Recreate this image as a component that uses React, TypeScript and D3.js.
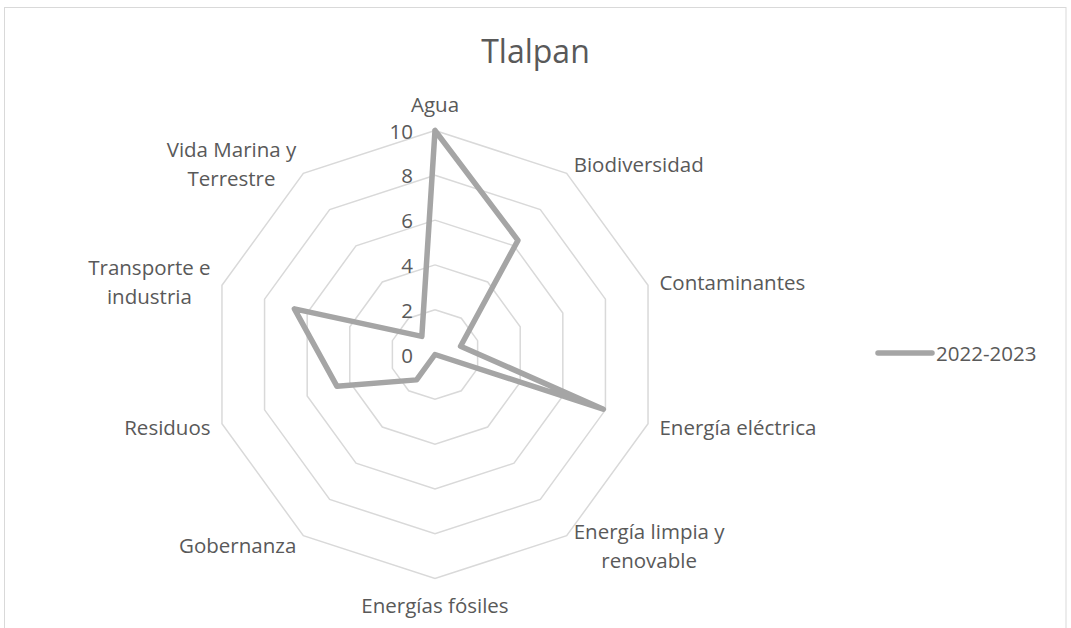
import React from "react";
import * as d3 from "d3";

const title = "Tlalpan";
const categories = [
  "Agua",
  "Biodiversidad",
  "Contaminantes",
  "Energía eléctrica",
  "Energía limpia y renovable",
  "Energías fósiles",
  "Gobernanza",
  "Residuos",
  "Transporte e industria",
  "Vida Marina y Terrestre",
];
const categoryLines = [
  ["Agua"],
  ["Biodiversidad"],
  ["Contaminantes"],
  ["Energía eléctrica"],
  ["Energía limpia y", "renovable"],
  ["Energías fósiles"],
  ["Gobernanza"],
  ["Residuos"],
  ["Transporte e", "industria"],
  ["Vida Marina y", "Terrestre"],
];
const seriesName = "2022-2023";
const values = [10, 6.3, 1.2, 7.9, 0, 0, 1.4, 4.6, 6.6, 1.0];
const ticks = [0, 2, 4, 6, 8, 10];

const W = 1071;
const H = 628;
const FONT = "'Open Sans', 'Noto Sans', sans-serif";
const TEXT = "#595959";
const GRID = "#D9D9D9";
const SERIES = "#A5A5A5";

let ctx: CanvasRenderingContext2D | null = null;
function measure(s: string, size: number) {
  if (!ctx) ctx = document.createElement("canvas").getContext("2d");
  if (!ctx) return s.length * size * 0.5;
  ctx.font = `${size}px 'Open Sans'`;
  return ctx.measureText(s).width;
}

export default function App() {
  const cx = 435;
  const cy = 354.5;
  const R = 224;
  const r = d3.scaleLinear().domain([0, 10]).range([0, R]);
  const angle = d3
    .scalePoint<number>()
    .domain(d3.range(categories.length))
    .range([0, 2 * Math.PI - (2 * Math.PI) / categories.length]);

  const pt = (i: number, v: number): [number, number] => {
    const a = angle(i)!;
    return [cx + r(v) * Math.sin(a), cy - r(v) * Math.cos(a)];
  };

  const ringPath = (v: number) =>
    d3.line()(categories.map((_, i) => pt(i, v)).concat([pt(0, v)])) || "";

  const seriesPath =
    d3.line()(values.map((v, i) => pt(i, v)).concat([pt(0, values[0])])) || "";

  const fs = 20.5;
  const lh = 29;
  const gap = 12;

  const labels = categories.map((c, i) => {
    const a = angle(i)!;
    const dx = Math.sin(a);
    const dy = -Math.cos(a);
    const ax = cx + (R + gap) * dx;
    const ay = cy + (R + gap) * dy;
    const lines = categoryLines[i];
    const w = Math.max(...lines.map((l) => measure(l, fs)));
    const h = lh * lines.length;
    let mx = ax;
    let my = ay;
    if (Math.abs(dx) < 0.01) {
      my = ay + Math.sign(dy) * (h / 2);
    } else {
      mx = ax + Math.sign(dx) * (w / 2);
    }
    return { c, lines, mx, my, h };
  });

  return (
    <svg
      width={W}
      height={H}
      style={{ position: "absolute", left: 0, top: 0, background: "#fff" }}
      fontFamily={FONT}
    >
      <rect x={0} y={0} width={W} height={H} fill="#fff" />
      <rect
        x={4.5}
        y={7.5}
        width={1061.5}
        height={660}
        fill="#fff"
        stroke={GRID}
        strokeWidth={1}
      />
      <text
        x={W / 2}
        y={63}
        textAnchor="middle"
        fontSize={32}
        fill={TEXT}
      >
        {title}
      </text>
      <g>
        {ticks.map((t) => (
          <path key={t} d={ringPath(t)} fill="none" stroke={GRID} strokeWidth={1.5} />
        ))}
      </g>
      <path
        d={seriesPath}
        fill="none"
        stroke={SERIES}
        strokeWidth={5.5}
        strokeLinejoin="round"
        strokeLinecap="round"
      />
      <g fontSize={fs} fill={TEXT}>
        {ticks.map((t) => (
          <text
            key={t}
            x={cx - 22}
            y={cy - r(t)}
            textAnchor="end"
            dominantBaseline="central"
          >
            {t}
          </text>
        ))}
      </g>
      <g fontSize={fs} fill={TEXT}>
        {labels.map((L) => (
          <text key={L.c} textAnchor="middle">
            {L.lines.map((l, k) => (
              <tspan
                key={k}
                x={L.mx}
                y={L.my - L.h / 2 + lh * k + lh / 2}
                dominantBaseline="central"
              >
                {l}
              </tspan>
            ))}
          </text>
        ))}
      </g>
      <g>
        <line
          x1={878}
          x2={932}
          y1={353}
          y2={353}
          stroke={SERIES}
          strokeWidth={5.5}
          strokeLinecap="round"
        />
        <text
          x={936}
          y={353}
          fontSize={fs}
          fill={TEXT}
          dominantBaseline="central"
        >
          {seriesName}
        </text>
      </g>
    </svg>
  );
}
